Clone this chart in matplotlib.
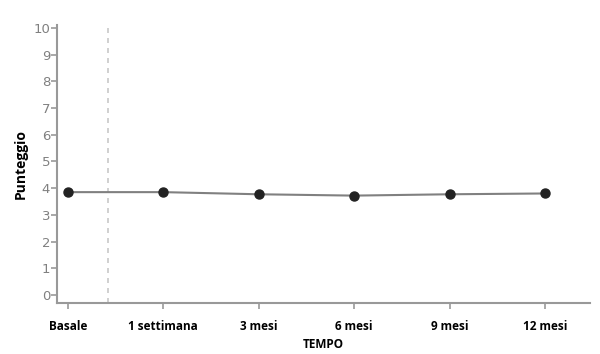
import numpy as np
import matplotlib.pyplot as plt

tempi = ['Basale', '1 settimana', '3 mesi', '6 mesi', '9 mesi', '12 mesi']
punteggio = [3.85, 3.85, 3.77, 3.72, 3.77, 3.8]
y_ticks = list(range(0, 11))

fig = plt.figure(figsize=(6, 3.54), dpi=100)
ax = fig.add_axes([0.095, 0.144, 0.888, 0.785])

x = np.arange(len(tempi))
ax.plot(x, punteggio, color='#808080', lw=1.5, zorder=2)
ax.plot(x, punteggio, 'o', color='#222222', ms=6.5, zorder=3)
ax.axvline(0.42, color='#c8c8c8', lw=1.2, ls=(0, (3, 3)), zorder=1)

ax.set_xlim(-0.115, 5.47)
ax.set_ylim(-0.3, 10.1)
ax.set_xticks(x)
ax.set_xticklabels(tempi, fontsize=8.5, fontweight='bold', family='Open Sans')
ax.set_yticks(y_ticks)
ax.set_yticklabels([str(v) for v in y_ticks], fontsize=9.5, color='#808080',
                   family='Liberation Sans Narrow')

for s in ['top', 'right']:
    ax.spines[s].set_visible(False)
for s in ['left', 'bottom']:
    ax.spines[s].set_color('#999999')
    ax.spines[s].set_linewidth(1.5)
ax.tick_params(axis='both', colors='#999999', width=1.2, length=4)
ax.tick_params(axis='x', labelcolor='black', pad=8)
ax.tick_params(axis='y', labelcolor='#808080', pad=1)

ax.set_ylabel('Punteggio', fontsize=10, fontweight='bold', family='Open Sans', labelpad=4)
ax.set_xlabel('TEMPO', fontsize=8.5, fontweight='bold', family='Open Sans', labelpad=4)

fig.savefig('out.png', dpi=100)
